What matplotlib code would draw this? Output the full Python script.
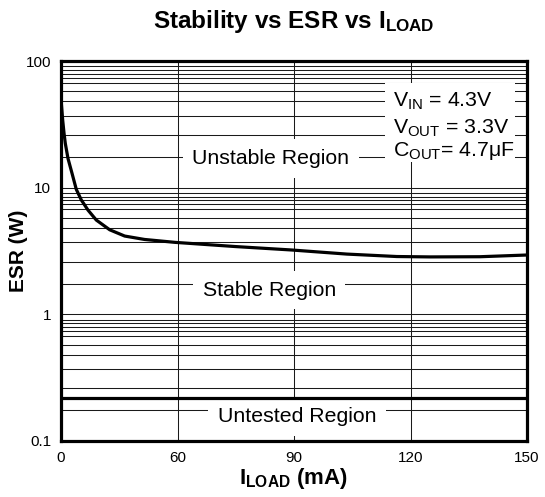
import matplotlib
matplotlib.use("Agg")
import matplotlib.pyplot as plt
from matplotlib.patches import Rectangle

plt.rcParams['font.family'] = ['Liberation Sans', 'DejaVu Sans']
plt.rcParams['mathtext.fontset'] = 'custom'
plt.rcParams['mathtext.rm'] = 'Liberation Sans'
plt.rcParams['mathtext.bf'] = 'Liberation Sans:bold'
plt.rcParams['mathtext.it'] = 'Liberation Sans:italic'

# ---- data (x in plotted axis units, y = ESR) ----
curve_x = [0, 0.55, 0.97, 1.38, 2.25, 3.54, 4.92, 6.53, 8.69, 11.36, 15.68, 20.5,
           26.9, 36.7, 56.0, 74.3, 92.0, 108.1, 118.8, 134.9, 150]
curve_y = [50, 34.0, 27.0, 22.4, 17.0, 13.0, 9.7, 8.0, 6.65, 5.55, 4.65, 4.15,
           3.9, 3.7, 3.43, 3.22, 2.99, 2.86, 2.84, 2.85, 2.94]
untested_limit = 0.22
x_tick_pos = [0, 37.5, 75, 112.5, 150]
x_tick_labels = ['0', '60', '90', '120', '150']
y_ticks = [0.1, 1, 10, 100]
y_tick_labels = ['0.1', '1', '10', '100']
region_labels = ['Unstable Region', 'Stable Region', 'Untested Region']
cond_lines = [r'V$_{\mathrm{IN}}$ = 4.3V', r'V$_{\mathrm{OUT}}$ = 3.3V', r'C$_{\mathrm{OUT}}$= 4.7μF']

# style: minor gridline multipliers per decade (as drawn in the reference)
grid_mult = [1.75, 2.6, 3.7, 4.8, 5.75, 6.75, 7.4, 7.95, 8.5, 9.1]

fig = plt.figure(figsize=(5.45, 4.97), dpi=100)
ax = fig.add_axes([61/545, 1-441/497, 466/545, 380/497])

ax.set_yscale('log')
ax.set_xlim(0, 150)
ax.set_ylim(0.1, 100)

minor = [m * d for d in [0.1, 1, 10] for m in grid_mult]
ax.set_yticks(y_ticks)
ax.set_yticklabels(y_tick_labels)
ax.set_yticks(minor, minor=True)
ax.set_yticklabels([], minor=True)
ax.set_xticks(x_tick_pos)
ax.set_xticklabels(x_tick_labels)
ax.tick_params(which='both', length=0, labelsize=11, pad=7)

for v in minor + y_ticks[1:-1]:
    ax.axhline(v, color='#1a1a1a', lw=0.75, zorder=1)
for p in x_tick_pos[1:-1]:
    ax.axvline(p, color='#1a1a1a', lw=0.75, zorder=1)

ax.axhline(untested_limit, color='black', lw=2.3, zorder=4)
ax.plot(curve_x, curve_y, color='black', lw=2.3, zorder=5, solid_capstyle='round',
        solid_joinstyle='round')

for s in ax.spines.values():
    s.set_linewidth(2.3)
    s.set_zorder(6)

bb = dict(facecolor='white', edgecolor='none', boxstyle='square,pad=0.45')
ax.text(67.5, 17.0, region_labels[0], fontsize=15.3, ha='center', va='center', bbox=bb, zorder=3)
ax.text(67.0, 1.55, region_labels[1], fontsize=15.3, ha='center', va='center', bbox=bb, zorder=3)
ax.text(76.0, 0.155, region_labels[2], fontsize=15.3, ha='center', va='center', bbox=bb, zorder=3)

ax.add_patch(Rectangle((0.695, 0.734), 0.279, 0.208, transform=ax.transAxes,
                       facecolor='white', edgecolor='none', zorder=2))
for txt, yv in zip(cond_lines, [43.5, 26.9, 17.7]):
    ax.text(106.8, yv, txt, fontsize=15.3, ha='left', va='baseline', zorder=3)

fig.text(294/545, 1-27.7/497, r'Stability vs ESR vs I$_{\mathbf{LOAD}}$', fontsize=17.5,
         fontweight='bold', ha='center', va='baseline')
fig.text(293/545, 1-484/497, r'I$_{\mathbf{LOAD}}$ (mA)', fontsize=16,
         fontweight='bold', ha='center', va='baseline')
fig.text(18/545, 1-251/497, 'ESR (W)', fontsize=15, fontweight='bold',
         ha='center', va='center', rotation=90)

fig.savefig('out.png', dpi=100)
